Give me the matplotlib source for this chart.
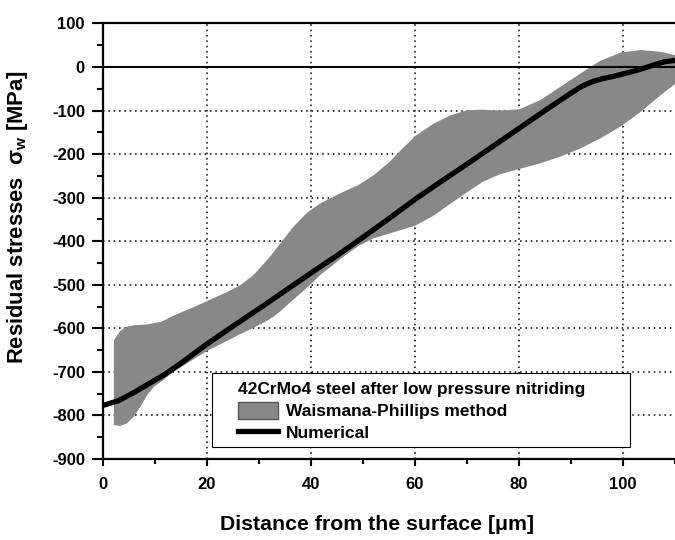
import matplotlib
matplotlib.use("Agg")
import matplotlib.pyplot as plt
from matplotlib.patches import Patch, Rectangle
from matplotlib.lines import Line2D
from matplotlib.ticker import MultipleLocator

plt.rcParams['font.family'] = ['Liberation Sans', 'DejaVu Sans']
plt.rcParams['mathtext.fontset'] = 'custom'
plt.rcParams['mathtext.rm'] = 'Liberation Sans'
plt.rcParams['mathtext.it'] = 'Liberation Sans:italic'

# Numerical curve
num_x = [0, 3, 6, 8, 10, 12, 15, 20, 25, 30, 35, 40, 45, 50, 55, 60, 65, 70, 75,
         80, 85, 90, 92, 94, 96, 98, 100, 102, 104, 106, 108, 110]
num_y = [-777, -766, -747, -733, -719, -705, -680, -636, -595, -555, -514, -473,
         -433, -391, -348, -304, -263, -223, -182, -141, -100, -60, -45, -34, -27,
         -22, -16, -10, -3, 5, 12, 15]

# Waismana-Phillips band
band_x = [2, 3.2, 4.5, 5.8, 7.1, 8.4, 9.7, 11, 12.3, 13.6, 16.8, 20, 23.7, 25, 26.3,
          28.8, 31.4, 32.7, 34, 36.5, 39, 40, 41.7, 44, 45.5, 49, 52, 55, 57, 60,
          63.5, 66.7, 70, 73, 76.3, 80, 84, 87.8, 91.7, 95.5, 99.4, 103.3, 107.1, 110]
band_upper = [-626, -605, -595, -592, -591, -590, -587, -584, -577, -569, -553, -536,
              -516, -508, -500, -477, -443, -424, -404, -366, -335, -326, -312, -298,
              -289, -270, -247, -217, -192, -157, -129, -110, -98, -97, -99, -96,
              -75, -45, -14, 15, 34, 40, 36, 28]
band_lower = [-821, -823, -817, -802, -779, -752, -733, -722, -710, -698, -674, -650,
              -628, -620, -612, -598, -582, -572, -560, -533, -507, -496, -476, -455,
              -440, -410, -392, -381, -374, -363, -340, -313, -286, -262, -245, -233,
              -220, -205, -186, -163, -136, -102, -64, -37]

x_ticks = [0, 20, 40, 60, 80, 100]
y_ticks = [-900, -800, -700, -600, -500, -400, -300, -200, -100, 0, 100]

legend_title = "42CrMo4 steel after low pressure nitriding"
band_label = "Waismana-Phillips method"
line_label = "Numerical"

fig = plt.figure(figsize=(6.75, 5.4), dpi=100)
W, H = 675, 540
ax = fig.add_axes([103 / W, 81 / H, 572 / W, 435.6 / H])

band_color = '#888888'
ax.fill_between(band_x, band_lower, band_upper, color=band_color, lw=0, zorder=2)
ax.axhline(0, color='black', lw=1.5, zorder=3)
ax.plot(num_x, num_y, color='black', lw=3.8, solid_capstyle='butt',
        solid_joinstyle='round', zorder=4)

ax.set_xlim(0, 110)
ax.set_ylim(-900, 100)
ax.set_xticks(x_ticks)
ax.set_yticks(y_ticks)
ax.set_xticklabels([str(v) for v in x_ticks])
ax.set_yticklabels([str(v) for v in y_ticks])
ax.xaxis.set_minor_locator(MultipleLocator(10))
ax.yaxis.set_minor_locator(MultipleLocator(50))

for lbl in ax.get_xticklabels() + ax.get_yticklabels():
    lbl.set_fontweight('bold')
    lbl.set_fontsize(12)

ax.tick_params(axis='y', which='major', direction='out', length=8, width=1.5, pad=5)
ax.tick_params(axis='y', which='minor', direction='out', length=4.5, width=1.5)
ax.tick_params(axis='x', which='major', direction='out', length=5, width=1.5, pad=8)
ax.tick_params(axis='x', which='minor', direction='out', length=3.6, width=1.5)

ax.grid(True, which='major', color='black', lw=1.1, linestyle=(0, (1, 2.5)), zorder=1)
ax.set_axisbelow(True)

ax.spines['right'].set_visible(False)
for s in ['left', 'top', 'bottom']:
    ax.spines[s].set_linewidth(1.6)

fig.text(377 / W, 1 - 525 / H, "Distance from the surface [\u03bcm]",
         ha='center', va='center', fontsize=15.3, fontweight='bold')
fig.text(18 / W, 1 - 217 / H, r"Residual stresses  $\mathregular{\sigma_w}$ [MPa]",
         ha='center', va='center', rotation=90, fontsize=15.8, fontweight='bold')

# legend frame
frame = Rectangle((211.7 / W, 1 - 447.3 / H), (630 - 211.7) / W, (447.3 - 373.3) / H,
                  transform=fig.transFigure, facecolor='white', edgecolor='black',
                  lw=0.8, zorder=5, clip_on=False)
ax.add_patch(frame)

handles = [Patch(facecolor=band_color, edgecolor='#555555', linewidth=1.0),
           Line2D([0], [0], color='black', lw=3.8)]
leg = ax.legend(handles, [band_label, line_label], title=legend_title,
                loc='upper left', bbox_to_anchor=(238 / W, 1 - 382 / H),
                bbox_transform=fig.transFigure, frameon=False, borderpad=0,
                borderaxespad=0, handlelength=2.3, handleheight=1.15,
                handletextpad=0.45, labelspacing=0.27, alignment='left',
                prop={'weight': 'bold', 'size': 12.5},
                title_fontproperties={'weight': 'bold', 'size': 12.5})
leg.set_zorder(6)

fig.savefig("out.png", dpi=100)
